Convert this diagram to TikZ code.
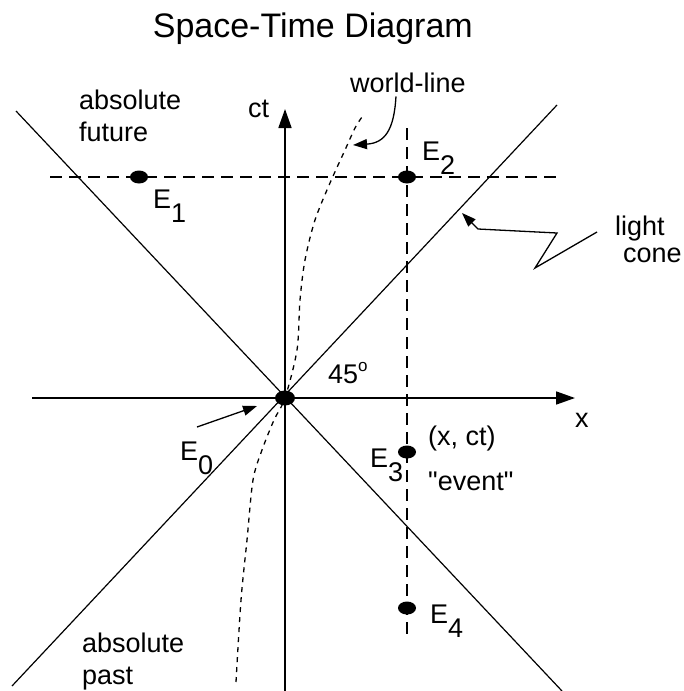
\documentclass[tikz,border=0pt]{standalone}
\usepackage{fontspec}
\setmainfont{Liberation Sans}
\usepackage{tikz}
\usetikzlibrary{arrows.meta, shapes.geometric, positioning}
\newcommand{\evname}[1]{E\raisebox{-14pt}{#1}}
\newcommand{\degsup}[1]{\raisebox{12pt}{\fontsize{17}{17}\selectfont #1}}

\begin{document}
\begin{tikzpicture}[x=1pt, y=-1pt,
  axis/.style={line width=1.7pt, -{Triangle[length=19pt, width=13pt]}},
  cone/.style={line width=1.2pt},
  guide/.style={line width=1.2pt, dash pattern=on 12pt off 7pt},
  wline/.style={line width=1.3pt, dash pattern=on 5pt off 5pt},
  pointer/.style={line width=1.3pt, -{Triangle[length=14pt, width=10pt]}},
  event/.style={ellipse, fill=black, minimum width=18pt, minimum height=13pt, inner sep=0pt},
  lbl/.style={font=\fontsize{27}{32}\selectfont, inner sep=0pt, align=left}]

  \useasboundingbox (0,0) rectangle (683,691);

  % title
  \node[lbl, font=\fontsize{34}{40}\selectfont, anchor=base east] (title) at (473,37) {Space-Time Diagram};

  % axes
  \coordinate (xl) at (32,398);
  \coordinate (xr) at (575,398);
  \coordinate (tb) at (285,691);
  \coordinate (tt) at (285,109);
  \draw[axis] (xl) -- (xr);
  \draw[axis] (tb) -- (tt);

  % light cone
  \coordinate (c1a) at (16,111);
  \coordinate (c1b) at (562,691);
  \coordinate (c2a) at (557,105);
  \coordinate (c2b) at (12,686);
  \draw[cone] (c1a) -- (c1b);
  \draw[cone] (c2a) -- (c2b);

  % guides through the events
  \coordinate (hl) at (50,177);
  \coordinate (hr) at (558,177);
  \coordinate (vt) at (407,128);
  \coordinate (vb) at (407,635);
  \draw[guide] (hl) -- (hr);
  \draw[guide] (vt) -- (vb);

  % world-line
  \draw[wline] plot[smooth] coordinates {(236,682) (241,600) (247,540) (253,480)
    (262,450) (274,420) (285,398) (297,350) (300,300) (305,260) (315,220)
    (330,183) (345,150) (355,128) (362,117)};

  % events
  \node[event, minimum width=20pt, minimum height=15pt] (e0) at (285,398) {};
  \node[event] (e1) at (139,177) {};
  \node[event] (e2) at (407,177) {};
  \node[event] (e3) at (407,452) {};
  \node[event] (e4) at (407,608) {};

  \node[lbl, anchor=base west] (e0lbl) at (180,460) {\evname{0}};
  \node[lbl, anchor=base west] (e1lbl) at (153,208) {\evname{1}};
  \node[lbl, anchor=base west] (e2lbl) at (422,160) {\evname{2}};
  \node[lbl, anchor=base west] (e3lbl) at (370,467) {\evname{3}};
  \node[lbl, anchor=base west] (e4lbl) at (430,623) {\evname{4}};

  % labels
  \node[lbl, anchor=north west] (futlbl) at (79,90) {absolute\\future};
  \node[lbl, anchor=north west] (pastlbl) at (82,633) {absolute\\past};
  \node[lbl, anchor=base west] (ctlbl) at (248,117) {ct};
  \node[lbl, anchor=base west] (xlbl) at (575,427) {x};
  \node[lbl, anchor=base west] (anglbl) at (328,383) {45\degsup{o}};
  \node[lbl, anchor=base west] (wlbl) at (350,92) {world-line};
  \node[lbl, anchor=base west] (lightlbl) at (615,235) {light};
  \node[lbl, anchor=base west] (conelbl) at (623,262) {cone};
  \node[lbl, anchor=base west] (coordlbl) at (428,445) {(x, ct)};
  \node[lbl, anchor=base west] (eventlbl) at (428,490) {\textquotedbl event\textquotedbl};

  % pointers
  \coordinate (wtip) at (353,145);
  \coordinate (ctip) at (462,213);
  \coordinate (e0tip) at (257,406);
  \draw[pointer] ([xshift=-12pt, yshift=-4pt]wlbl.south) .. controls (394,130) and (385,143) .. (wtip);
  \draw[pointer] ([xshift=-18pt, yshift=3pt]lightlbl.base west) -- (535,268) -- (557,233) -- (478,229) -- (ctip);
  \draw[pointer] ([xshift=17pt, yshift=33pt]e0lbl.base west) -- (e0tip);

\end{tikzpicture}
\end{document}
